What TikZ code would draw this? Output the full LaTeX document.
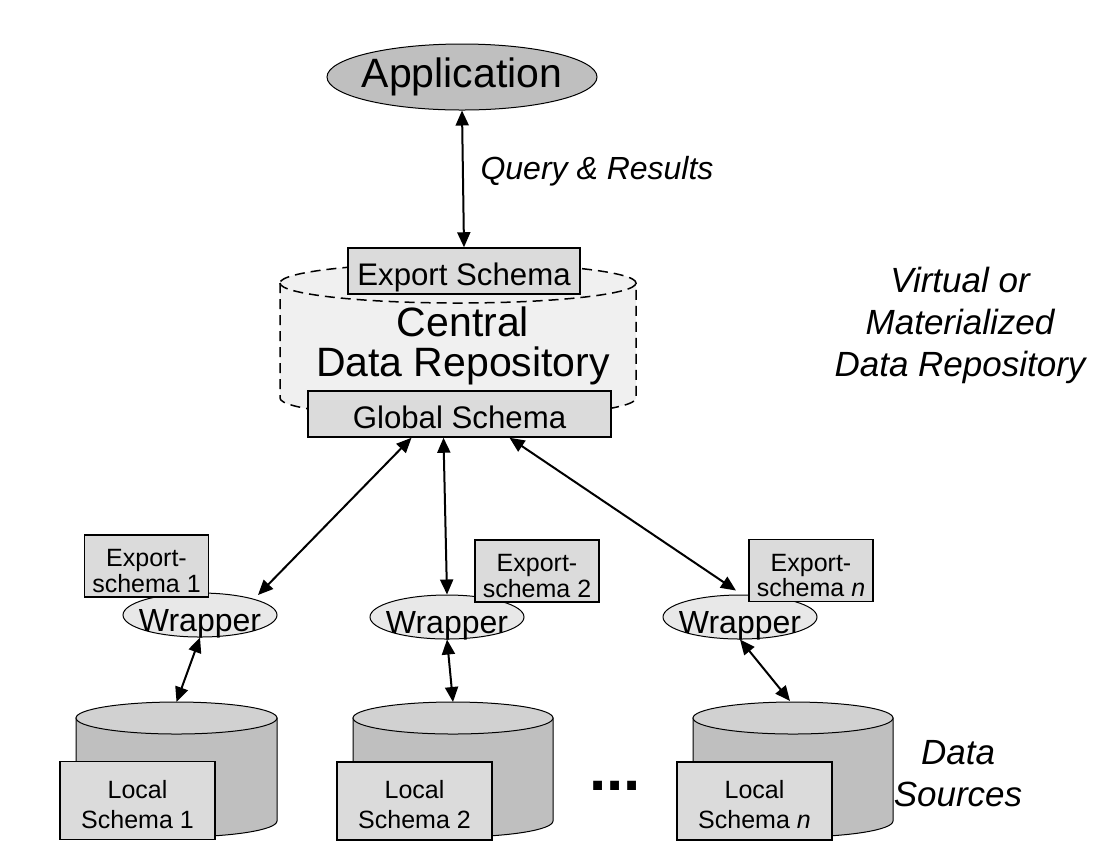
\documentclass[tikz,border=0pt]{standalone}
\usepackage{fontspec}
\setmainfont{Liberation Sans}
\usetikzlibrary{shapes.geometric, arrows.meta, positioning, calc}

\definecolor{appgray}{gray}{0.75}
\definecolor{boxgray}{gray}{0.86}
\definecolor{wrapgray}{gray}{0.91}
\definecolor{repogray}{gray}{0.94}
\definecolor{sidegray}{gray}{0.75}
\definecolor{topgray}{gray}{0.82}

\tikzset{
	schemabox/.style={rectangle,draw,line width=.75pt,fill=boxgray,inner sep=0pt,align=center},
	centralbox/.style={schemabox,minimum height=23pt,text height=14.5pt,text depth=0pt,font=\fontsize{15.6}{18}\selectfont},
	exportbox/.style={schemabox,minimum width=62pt,minimum height=31pt,text height=26pt,text depth=0pt,font=\fontsize{12.5}{11.5}\selectfont},
	localbox/.style={schemabox,minimum width=77.5pt,minimum height=39pt,text height=27.5pt,text depth=0pt,font=\fontsize{12.5}{15}\selectfont},
	wrapper/.style={ellipse,draw,line width=.5pt,fill=wrapgray,minimum width=77pt,minimum height=22pt,inner xsep=-3.4pt,inner ysep=-.6pt,text height=16.5pt,text depth=0pt,font=\fontsize{16}{18}\selectfont},
	link/.style={{Triangle[length=7.5pt,width=6.5pt]}-{Triangle[length=7.5pt,width=6.5pt]},line width=1pt},
	cylside/.style={draw,line width=.5pt,fill=sidegray},
	cyltop/.style={draw,line width=.5pt,fill=topgray},
	note/.style={align=center,font=\fontsize{17.5}{21}\selectfont\itshape}
}

\begin{document}
\begin{tikzpicture}[x=.5pt,y=.5pt]
		\useasboundingbox (0,0) rectangle (1107,-864);
		% central repository
		\draw[dash pattern=on 5pt off 3pt,line width=.75pt,fill=repogray] (280,-283) -- (280,-398) arc[start angle=180,end angle=360,x radius=178,y radius=20] -- (636,-283) arc[start angle=0,end angle=180,x radius=178,y radius=20] -- cycle;
		\draw[dash pattern=on 5pt off 3pt,line width=.75pt] (280,-283) arc[start angle=180,end angle=360,x radius=178,y radius=20];
		\node(central) at (463,-346)[align=center,font=\fontsize{20.5}{20}\selectfont]{Central\\Data Repository};
		\node(export) at (464,-271)[centralbox,minimum width=116pt]{Export Schema};
		\node(global) at (459.5,-414)[centralbox,minimum width=151.5pt]{Global Schema};
		\node(app) at (462,-77)[ellipse,draw,line width=.5pt,fill=appgray,minimum width=135pt,minimum height=33pt,inner xsep=-2.8pt,inner ysep=0pt,font=\fontsize{20.5}{24}\selectfont]{Application};
		\node(query) at (597,-171)[font=\fontsize{16}{18}\selectfont\itshape]{Query \& Results};
		\node(virtual) at (960,-325)[note]{Virtual or\\Materialized\\Data Repository};
		
		% wrappers and their export schemas
		\node(wrap1) at (200,-615)[wrapper]{Wrapper};
		\node(wrap2) at (447,-617)[wrapper]{Wrapper};
		\node(wrapn) at (740,-617)[wrapper]{Wrapper};
		\node(exp1) at (146.5,-566)[exportbox]{Export-\\schema 1};
		\node(exp2) at (537,-571)[exportbox]{Export-\\schema 2};
		\node(expn) at (811,-570.5)[exportbox]{Export-\\schema \textit{n}};
		
		% data sources
		\draw[cylside] (76,-718) -- (76,-821) arc[start angle=180,end angle=360,x radius=100.5,y radius=16] -- (277,-718) -- cycle;
		\draw[cyltop] (176.5,-718) ellipse[x radius=100.5,y radius=16];
		\draw[cylside] (353,-718) -- (353,-821) arc[start angle=180,end angle=360,x radius=100,y radius=16] -- (553,-718) -- cycle;
		\draw[cyltop] (453,-718) ellipse[x radius=100,y radius=16];
		\draw[cylside] (693,-718) -- (693,-821) arc[start angle=180,end angle=360,x radius=100,y radius=16] -- (893,-718) -- cycle;
		\draw[cyltop] (793,-718) ellipse[x radius=100,y radius=16];
		\coordinate(db1) at (176.5,-702);
		\coordinate(db2) at (453,-702);
		\coordinate(dbn) at (790,-701);
		\node(loc1) at (137.5,-800.5)[localbox]{Local\\Schema 1};
		\node(loc2) at (414.5,-801)[localbox]{Local\\Schema 2};
		\node(locn) at (754.5,-801)[localbox]{Local\\Schema \textit{n}};
		\node(dots) at (615,-786)[font=\fontsize{31}{31}\selectfont\bfseries]{...};
		\node(sources) at (958,-774)[note]{Data\\Sources};
		
		\draw[link] (app.south) -- (export.north);
		\draw[link] ($(global.south)+(-48,0)$) -- ($(wrap1.center)+(58,20)$);
		\draw[link] ($(global.south)+(-16,0)$) -- (wrap2.north);
		\draw[link] ($(global.south)+(50,0)$) -- ($(wrapn.north)+(-4,4)$);
		\draw[link] (wrap1.south) -- (db1);
		\draw[link] (wrap2.south) -- (db2);
		\draw[link] (wrapn.south) -- (dbn);
		
	\end{tikzpicture}
\end{document}
